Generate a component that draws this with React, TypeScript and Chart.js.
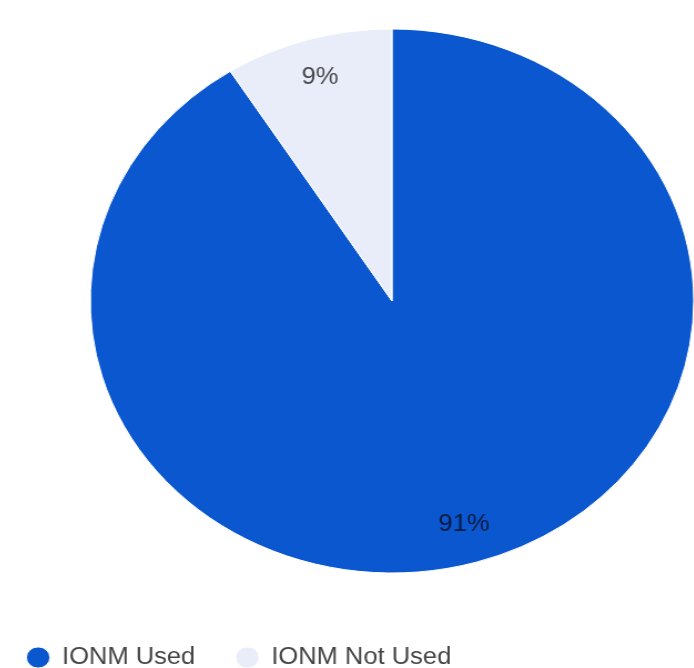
import React, { useEffect, useRef } from "react";
import { Chart, registerables } from "chart.js";

Chart.register(...registerables);

const categories = ["IONM Used", "IONM Not Used"];
const values = [91, 9];
const valueLabels = ["91%", "9%"];
const colors = ["#0b57d0", "#e8edf9"];

const FONT = "'Liberation Sans', Arial, Helvetica, sans-serif";
const LABEL_RADIUS = 0.855;

const sliceLabels = {
  id: "sliceLabels",
  afterDatasetsDraw(chart: any) {
    const ctx = chart.ctx;
    const meta = chart.getDatasetMeta(0);
    ctx.save();
    ctx.font = `23px ${FONT}`;
    ctx.textAlign = "center";
    ctx.textBaseline = "middle";
    ctx.fillStyle = "rgba(0,0,0,0.7)";
    meta.data.forEach((arc: any, i: number) => {
      const p = arc.getProps(["x", "y", "startAngle", "endAngle", "outerRadius"], true);
      const mid = (p.startAngle + p.endAngle) / 2;
      const r = p.outerRadius * LABEL_RADIUS;
      ctx.fillText(valueLabels[i], p.x + Math.cos(mid) * r, p.y + Math.sin(mid) * r);
    });
    ctx.restore();
  },
};

export default function App() {
  const ref = useRef<HTMLCanvasElement>(null);
  useEffect(() => {
    if (!ref.current) return;
    const chart = new Chart(ref.current, {
      type: "pie",
      data: {
        labels: categories,
        datasets: [
          {
            data: values,
            backgroundColor: colors,
            borderColor: "#ffffff",
            borderWidth: 1,
            radius: 272,
          },
        ],
      },
      options: {
        responsive: false,
        animation: false,
        events: [],
        layout: { padding: 0 },
        plugins: {
          tooltip: { enabled: false },
          legend: {
            position: "bottom",
            align: "start",
            labels: {
              usePointStyle: true,
              pointStyle: "circle",
              boxWidth: 20,
              boxHeight: 15,
              padding: 37,
              color: "#444444",
              font: { size: 23, family: FONT },
            },
          },
        },
      },
      plugins: [sliceLabels],
    });
    return () => chart.destroy();
  }, []);
  return (
    <div
      style={{
        position: "fixed",
        left: 0,
        top: 0,
        width: 694,
        height: 668,
        overflow: "hidden",
        background: "#ffffff",
      }}
    >
      <canvas
        ref={ref}
        width={732}
        height={686}
        style={{
          position: "absolute",
          left: -14.5,
          top: -7.5,
          width: "812px",
          height: "686px",
        }}
      />
    </div>
  );
}
